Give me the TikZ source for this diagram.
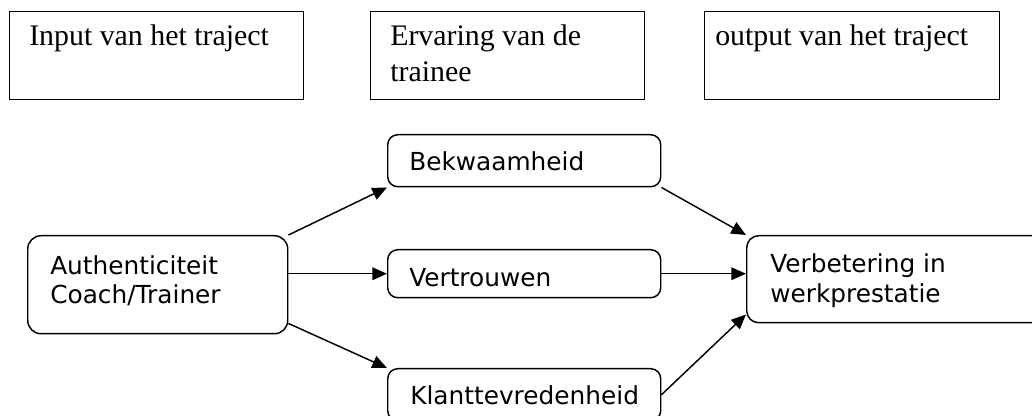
\documentclass[tikz,border=0pt]{standalone}
\usepackage{fontspec}
\newfontfamily\serifA{Liberation Serif}
\newfontfamily\sansA{DejaVu Sans}
\usetikzlibrary{arrows.meta}
\tikzset{
  topbox/.style={draw, line width=1.1pt, anchor=north west, inner sep=0pt, minimum height=66pt},
  rbox/.style={draw, line width=1.1pt, rounded corners=7.5pt, anchor=north west, inner sep=0pt},
  ttext/.style={anchor=base west, inner sep=0pt, font=\serifA\fontsize{22.4}{26}\selectfont},
  stext/.style={anchor=base west, inner sep=0pt, font=\sansA\fontsize{18.6}{22}\selectfont},
  arr/.style={line width=1.1pt, -{Triangle[length=11pt,width=9.5pt]}}
}
\begin{document}
\begin{tikzpicture}[x=0.75pt, y=-0.75pt]
\useasboundingbox (0,0) rectangle (1032,416);
\clip (0,0) rectangle (1032,416);
% top header boxes
\node[topbox, minimum width=220.5pt] (b1) at (9,11) {};
\node[topbox, minimum width=205.5pt] (b2) at (370,11) {};
\node[topbox, minimum width=221.25pt] (b3) at (704,11) {};
\node[ttext] (t1) at (29,46) {Input van het traject};
\node[ttext] (t2a) at (390,46) {Ervaring van de};
\node[ttext] (t2b) at (390,82) {trainee};
\node[ttext] (t3) at (715,46) {output van het traject};
% rounded boxes
\node[rbox, rounded corners=10pt, minimum width=195pt, minimum height=73.5pt] (auth) at (27,235) {};
\node[rbox, minimum width=204.75pt, minimum height=39pt] (bek) at (387,134) {};
\node[rbox, minimum width=204.75pt, minimum height=36pt] (vert) at (387,249) {};
\node[rbox, minimum width=204.75pt, minimum height=39pt] (klant) at (387,368) {};
\node[rbox, rounded corners=9pt, minimum width=240pt, minimum height=65.25pt] (verb) at (746,235) {};
% texts
\node[stext] (auth1) at (50,275) {Authenticiteit};
\node[stext] (auth2) at (50,304) {Coach/Trainer};
\node[stext] (bekt) at (409,171) {Bekwaamheid};
\node[stext] (vertt) at (409,287) {Vertrouwen};
\node[stext] (klantt) at (410,405) {Klanttevredenheid};
\node[stext] (verb1) at (770,273) {Verbetering in};
\node[stext] (verb2) at (770,303) {werkprestatie};
% arrows
\draw[arr] (auth.north east) -- (bek.south west);
\draw[arr] (auth.east |- vert.west) -- (vert.west);
\draw[arr] ([yshift=8.25pt]auth.south east) -- (klant.north west);
\draw[arr] (bek.south east) -- (verb.north west);
\draw[arr] (vert.east) -- (verb.west |- vert.east);
\draw[arr] (klant.east) -- ([yshift=6.75pt]verb.south west);
\end{tikzpicture}
\end{document}
